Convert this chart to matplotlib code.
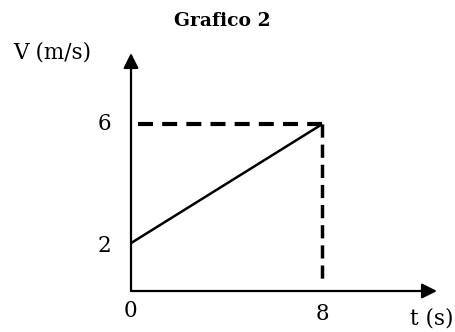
import matplotlib.pyplot as plt

# velocity-time data
t = [0, 8]
v = [2, 6]
x_ticks = [0, 8]
y_ticks = [2, 6]
title = "Grafico 2"
x_label = "t (s)"
y_label = "V (m/s)"

plt.rcParams['font.family'] = ['DejaVu Serif']

fig = plt.figure(figsize=(4.55, 3.32), dpi=100)
ax = fig.add_axes([131 / 455, 41 / 332, 306 / 455, 238 / 332])

x0, x1 = 0, 12.8
y0, y1 = 0.39, 8.39
ax.set_xlim(x0, x1)
ax.set_ylim(y0, y1)
ax.axis('off')

# axes with arrow heads
arrow = dict(arrowstyle='-|>,head_length=0.9,head_width=0.45', color='black', lw=1.6,
             shrinkA=0, shrinkB=0)
ax.annotate('', xy=(x1, y0), xytext=(x0, y0), arrowprops=arrow, annotation_clip=False)
ax.annotate('', xy=(x0, y1), xytext=(x0, y0), arrowprops=arrow, annotation_clip=False)

# data line
ax.plot(t, v, color='black', lw=1.8, solid_capstyle='butt')

# dashed guides
ax.plot([0.3, t[-1]], [v[-1], v[-1]], color='black', lw=3, ls=(0, (3.6, 2.2)))
ax.plot([t[-1], t[-1]], [v[-1], 0.77], color='black', lw=2.5, ls=(0, (3.8, 2.0)))

fs = 15.5
for yt in y_ticks:
    ax.text(-1.1, yt - (0.1 if yt == 2 else 0), str(yt), fontsize=fs, ha='center', va='center')
ax.text(-0.04, -0.28, str(x_ticks[0]), fontsize=fs, ha='center', va='center')
ax.text(x_ticks[1], -0.38, str(x_ticks[1]), fontsize=fs, ha='center', va='center')
ax.text(11.69, -0.52, x_label, fontsize=fs, ha='left', va='center')
ax.text(-4.94, 8.39, y_label, fontsize=fs, ha='left', va='center')

fig.text(222 / 455, 1 - 21 / 332, title, fontsize=13.5, fontweight='bold',
         ha='center', va='center')

fig.savefig('out.png', dpi=100)
